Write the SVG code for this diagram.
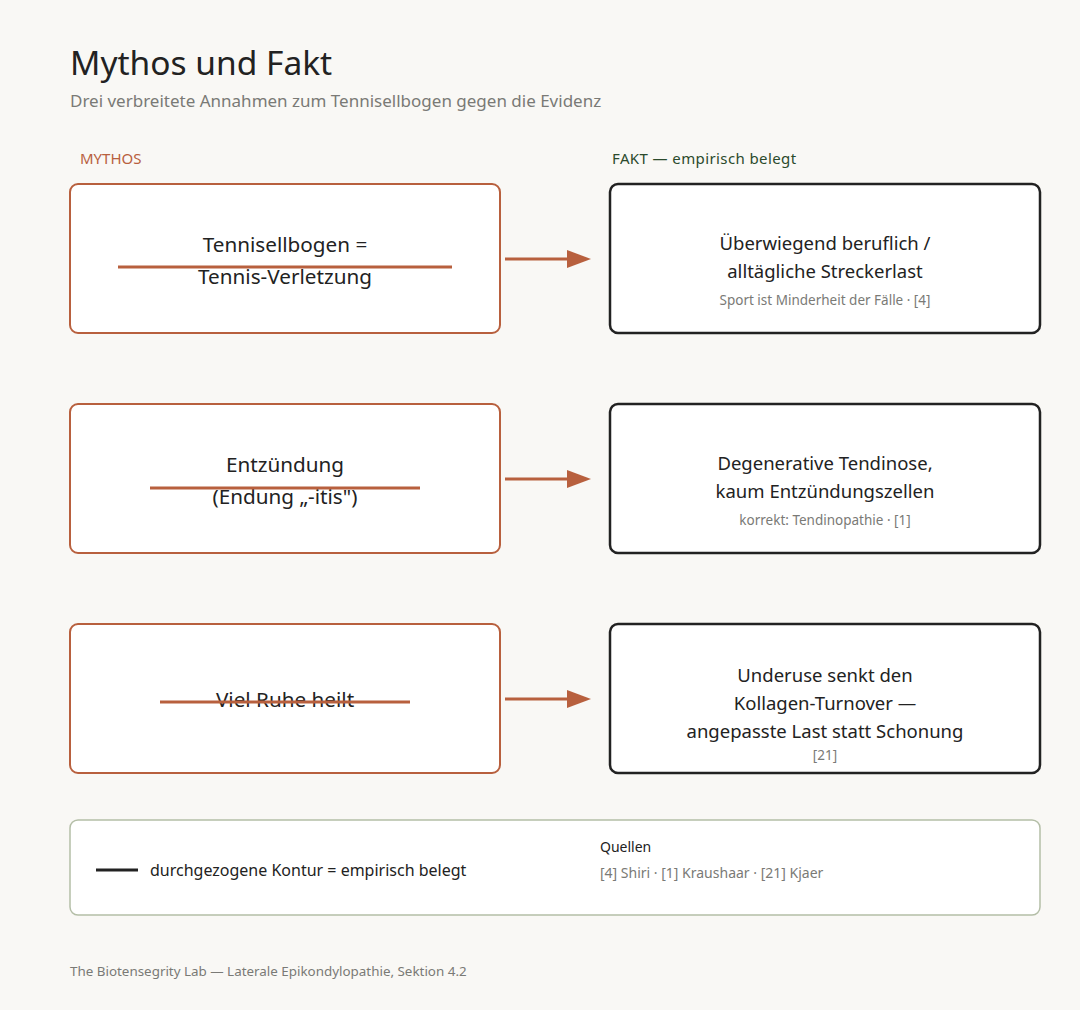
<svg xmlns="http://www.w3.org/2000/svg" width="1080" height="1010" viewBox="0 0 1080 1010">
<defs>
<style>
text{font-family:"Noto Sans","Open Sans","DejaVu Sans",sans-serif}
.title{font-size:33.5px;fill:#222}
.sub{font-size:17px;fill:#7a7a76}
.myth-h{font-size:15px;fill:#b8603e}
.fact-h{font-size:15px;fill:#2b4a2c;letter-spacing:0.4px}
.myth{fill:#fff;stroke:#b8603e;stroke-width:2}
.fact{fill:#fff;stroke:#222;stroke-width:2.5}
.t{font-size:20.7px;fill:#222;text-anchor:middle}
.f{font-size:18.5px;fill:#222;text-anchor:middle}
.s{font-size:13.5px;fill:#7a7a76;text-anchor:middle}
.strike{stroke:#b8603e;stroke-width:3}
.conn{stroke:#b8603e;stroke-width:3;fill:none}
.legend{fill:#fff;stroke:#b4bea7;stroke-width:1.5}
.foot{font-size:13.4px;fill:#7a7a76}
</style>
<marker id="arr" markerWidth="8" markerHeight="6" refX="0" refY="3" orient="auto" markerUnits="strokeWidth">
<path d="M0,0 L8,3 L0,6 Z" fill="#b8603e"/>
</marker>
</defs>
<rect width="1080" height="1010" fill="#f9f8f5"/>
<text class="title" x="70" y="75">Mythos und Fakt</text>
<text class="sub" x="70" y="107">Drei verbreitete Annahmen zum Tennisellbogen gegen die Evidenz</text>
<text class="myth-h" x="80" y="164">MYTHOS</text>
<text class="fact-h" x="612" y="164">FAKT — empirisch belegt</text>

<g id="connectors">
<line class="conn" x1="505" y1="259" x2="567" y2="259" marker-end="url(#arr)"/>
<line class="conn" x1="505" y1="479" x2="567" y2="479" marker-end="url(#arr)"/>
<line class="conn" x1="505" y1="699" x2="567" y2="699" marker-end="url(#arr)"/>
</g>

<g id="myth1">
<rect class="myth" x="70" y="184" width="430" height="149" rx="8"/>
<text class="t" x="285" y="252">Tennisellbogen =</text>
<text class="t" x="285" y="284">Tennis-Verletzung</text>
<line class="strike" x1="118" y1="267" x2="452" y2="267"/>
</g>
<g id="fact1">
<rect class="fact" x="610" y="184" width="430" height="149" rx="8"/>
<text class="f" x="825" y="250">Überwiegend beruflich /</text>
<text class="f" x="825" y="278">alltägliche Streckerlast</text>
<text class="s" x="825" y="305">Sport ist Minderheit der Fälle · [4]</text>
</g>

<g id="myth2">
<rect class="myth" x="70" y="404" width="430" height="149" rx="8"/>
<text class="t" x="285" y="472">Entzündung</text>
<text class="t" x="285" y="504">(Endung „-itis")</text>
<line class="strike" x1="150" y1="488" x2="420" y2="488"/>
</g>
<g id="fact2">
<rect class="fact" x="610" y="404" width="430" height="149" rx="8"/>
<text class="f" x="825" y="470">Degenerative Tendinose,</text>
<text class="f" x="825" y="498">kaum Entzündungszellen</text>
<text class="s" x="825" y="525">korrekt: Tendinopathie · [1]</text>
</g>

<g id="myth3">
<rect class="myth" x="70" y="624" width="430" height="149" rx="8"/>
<text class="t" x="285" y="707">Viel Ruhe heilt</text>
<line class="strike" x1="160" y1="702" x2="410" y2="702"/>
</g>
<g id="fact3">
<rect class="fact" x="610" y="624" width="430" height="149" rx="8"/>
<text class="f" x="825" y="682">Underuse senkt den</text>
<text class="f" x="825" y="710">Kollagen-Turnover —</text>
<text class="f" x="825" y="738">angepasste Last statt Schonung</text>
<text class="s" x="825" y="760">[21]</text>
</g>

<g id="legend">
<rect class="legend" x="70" y="820" width="970" height="95" rx="8"/>
<line x1="96" y1="870" x2="138" y2="870" stroke="#222" stroke-width="3"/>
<text x="150" y="876" style="font-size:16px;fill:#222">durchgezogene Kontur = empirisch belegt</text>
<text x="600" y="852" style="font-size:14px;fill:#222">Quellen</text>
<text x="600" y="878" style="font-size:14px;fill:#7a7a76">[4] Shiri · [1] Kraushaar · [21] Kjaer</text>
</g>

<text class="foot" x="70" y="976">The Biotensegrity Lab — Laterale Epikondylopathie, Sektion 4.2</text>
</svg>
